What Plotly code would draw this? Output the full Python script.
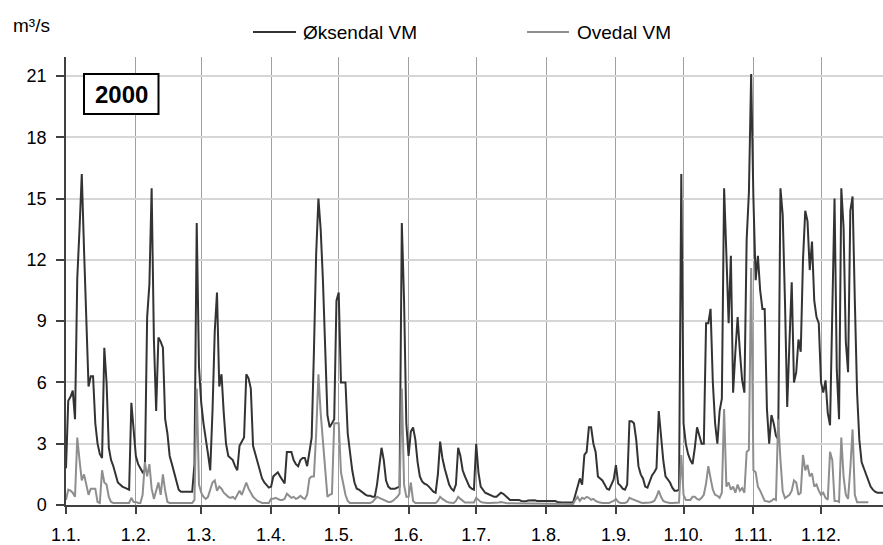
import pandas as pd
import plotly.graph_objects as go

# Daily discharge (m³/s), year 2000, one list per month
oksendal_jan = [1.8, 5.1, 5.3, 5.6, 4.2, 11.1, 13.5, 16.2, 12.5, 8.5, 5.8, 6.3, 6.3, 4.0, 3.0, 2.5, 2.3, 7.7, 6.0, 2.8, 2.2, 1.9, 1.5, 1.1, 1.0, 0.9, 0.85, 0.8, 0.75, 5.0, 3.8]
oksendal_feb = [2.4, 2.0, 1.8, 1.6, 1.7, 9.2, 10.8, 15.5, 8.1, 4.6, 8.2, 8.0, 7.7, 4.2, 3.5, 2.4, 2.0, 1.6, 1.2, 0.75, 0.65, 0.65, 0.65, 0.65, 0.65, 0.65, 2.0, 13.8, 6.8]
oksendal_mar = [5.0, 4.0, 3.1, 2.5, 1.7, 4.6, 8.5, 10.4, 5.8, 6.4, 4.5, 3.0, 2.4, 2.3, 2.2, 1.9, 1.7, 2.9, 3.1, 3.3, 6.4, 6.2, 5.7, 2.9, 2.5, 2.1, 1.7, 1.3, 1.1, 0.95, 0.85]
oksendal_apr = [0.9, 1.4, 1.5, 1.6, 1.4, 1.25, 1.05, 2.6, 2.6, 2.6, 2.2, 2.0, 1.9, 2.2, 2.3, 2.3, 1.9, 2.6, 3.3, 7.5, 12.3, 15.0, 13.5, 11.0, 7.5, 4.4, 3.8, 4.0, 4.2, 10.0]
oksendal_may = [10.4, 6.0, 6.0, 6.0, 3.5, 2.5, 1.7, 1.1, 0.8, 0.75, 0.65, 0.55, 0.5, 0.45, 0.45, 0.4, 0.4, 1.0, 2.0, 2.8, 2.2, 1.2, 0.9, 0.8, 0.8, 0.8, 0.85, 0.9, 13.8, 10.0, 4.0]
oksendal_jun = [2.4, 3.6, 3.8, 3.2, 2.1, 1.4, 1.15, 1.05, 1.0, 0.9, 0.75, 0.65, 0.6, 1.5, 3.1, 2.3, 1.8, 1.4, 1.0, 0.8, 0.7, 1.0, 2.8, 2.4, 1.7, 1.4, 1.1, 0.9, 0.8, 0.75]
oksendal_jul = [3.0, 1.6, 0.9, 0.75, 0.6, 0.55, 0.5, 0.45, 0.4, 0.4, 0.5, 0.6, 0.55, 0.45, 0.35, 0.25, 0.25, 0.25, 0.25, 0.25, 0.2, 0.18, 0.18, 0.22, 0.23, 0.23, 0.23, 0.2, 0.2, 0.22, 0.22]
oksendal_aug = [0.2, 0.2, 0.2, 0.2, 0.2, 0.15, 0.12, 0.12, 0.12, 0.12, 0.12, 0.12, 0.12, 0.5, 0.9, 1.3, 1.0, 2.45, 2.6, 3.8, 3.8, 3.0, 2.6, 1.4, 1.3, 1.2, 1.0, 0.8, 0.75, 1.0, 1.25]
oksendal_sep = [1.95, 1.05, 0.95, 0.8, 0.75, 1.0, 4.1, 4.1, 4.0, 3.2, 1.9, 1.5, 1.3, 0.9, 0.85, 1.15, 1.45, 1.6, 1.8, 4.6, 3.3, 2.2, 1.4, 1.25, 1.1, 0.85, 0.7, 0.7, 0.75, 16.2]
oksendal_oct = [4.0, 3.0, 2.5, 2.2, 2.0, 2.8, 3.8, 3.4, 3.0, 3.0, 8.9, 8.9, 9.6, 6.0, 4.0, 3.0, 4.6, 5.2, 15.5, 12.3, 8.9, 12.2, 5.5, 7.5, 9.2, 7.5, 6.1, 5.5, 13.0, 15.3, 21.1]
oksendal_nov = [15.0, 11.0, 12.2, 10.5, 9.6, 9.6, 4.7, 3.0, 4.4, 4.0, 3.4, 3.2, 15.5, 14.2, 10.0, 4.8, 8.0, 10.9, 6.0, 6.5, 8.1, 7.5, 12.0, 14.4, 13.9, 11.5, 12.9, 10.0, 9.2, 8.9]
oksendal_dec = [6.0, 5.5, 6.1, 4.5, 3.9, 10.0, 15.0, 6.6, 4.2, 15.5, 13.6, 8.0, 6.5, 14.4, 15.1, 10.0, 5.5, 3.2, 2.1, 1.8, 1.5, 1.2, 0.9, 0.75, 0.65, 0.6, 0.6, 0.6, 0.6, 0.6, 0.6]

ovedal_jan = [0.25, 0.75, 0.7, 0.6, 0.4, 3.3, 2.2, 1.2, 1.5, 0.9, 0.5, 0.8, 0.8, 0.8, 0.15, 0.1, 1.7, 1.1, 1.0, 0.4, 0.15, 0.1, 0.1, 0.1, 0.1, 0.1, 0.1, 0.1, 0.1, 0.35, 0.15]
ovedal_feb = [0.15, 0.1, 0.1, 0.5, 2.1, 1.4, 2.0, 0.8, 0.3, 0.65, 1.1, 0.5, 1.5, 0.7, 0.15, 0.1, 0.1, 0.1, 0.1, 0.1, 0.1, 0.1, 0.1, 0.1, 0.1, 0.1, 0.25, 5.7, 1.0]
ovedal_mar = [0.6, 0.4, 0.3, 0.4, 0.8, 1.1, 1.2, 0.7, 0.9, 0.8, 0.6, 0.5, 0.4, 0.35, 0.4, 0.3, 0.5, 0.7, 0.5, 0.8, 1.1, 0.8, 0.6, 0.4, 0.3, 0.2, 0.15, 0.1, 0.1, 0.1, 0.1]
ovedal_apr = [0.3, 0.3, 0.35, 0.3, 0.25, 0.25, 0.3, 0.55, 0.45, 0.35, 0.4, 0.3, 0.35, 0.45, 0.35, 0.3, 0.5, 1.3, 1.4, 1.4, 3.5, 6.4, 4.5, 3.0, 1.5, 0.4, 0.5, 0.55, 4.0, 4.0]
ovedal_may = [4.0, 1.6, 1.0, 0.5, 0.2, 0.1, 0.1, 0.1, 0.1, 0.1, 0.1, 0.1, 0.1, 0.1, 0.1, 0.15, 0.25, 0.4, 0.35, 0.3, 0.25, 0.2, 0.15, 0.15, 0.2, 0.3, 0.4, 0.55, 5.7, 1.0, 0.4]
ovedal_jun = [0.4, 1.1, 0.2, 0.1, 0.1, 0.1, 0.1, 0.1, 0.1, 0.1, 0.1, 0.1, 0.1, 0.2, 0.4, 0.3, 0.2, 0.15, 0.12, 0.1, 0.1, 0.2, 0.4, 0.3, 0.2, 0.12, 0.12, 0.12, 0.12, 0.12]
ovedal_jul = [0.35, 0.25, 0.15, 0.12, 0.1, 0.1, 0.1, 0.1, 0.1, 0.1, 0.12, 0.15, 0.12, 0.1, 0.08, 0.08, 0.08, 0.08, 0.08, 0.06, 0.06, 0.06, 0.06, 0.06, 0.06, 0.05, 0.05, 0.05, 0.05, 0.05, 0.05]
ovedal_aug = [0.05, 0.05, 0.05, 0.05, 0.05, 0.05, 0.05, 0.05, 0.05, 0.05, 0.05, 0.05, 0.05, 0.25, 0.4, 0.2, 0.35, 0.3, 0.4, 0.35, 0.25, 0.3, 0.2, 0.15, 0.12, 0.1, 0.1, 0.1, 0.1, 0.15, 0.2]
ovedal_sep = [0.3, 0.15, 0.1, 0.1, 0.1, 0.15, 0.35, 0.3, 0.25, 0.2, 0.15, 0.12, 0.1, 0.1, 0.1, 0.12, 0.15, 0.2, 0.4, 0.7, 0.4, 0.2, 0.15, 0.12, 0.1, 0.1, 0.1, 0.1, 0.12, 2.45]
ovedal_oct = [0.5, 0.25, 0.25, 0.25, 0.4, 0.4, 0.3, 0.25, 0.35, 0.5, 1.06, 1.9, 1.3, 0.75, 0.5, 0.45, 0.35, 0.6, 4.7, 0.9, 1.1, 0.75, 0.9, 0.6, 1.0, 0.7, 0.83, 0.6, 2.6, 2.7, 11.6]
ovedal_nov = [1.7, 1.6, 0.9, 0.7, 0.4, 0.2, 0.18, 0.15, 0.2, 0.3, 0.25, 4.2, 2.2, 0.67, 0.34, 0.4, 0.5, 0.7, 1.2, 1.1, 0.5, 0.6, 2.45, 1.7, 1.96, 1.4, 1.55, 0.9, 1.0, 0.7]
ovedal_dec = [0.5, 0.6, 0.35, 0.26, 2.6, 2.2, 0.2, 0.2, 0.15, 3.3, 1.4, 0.5, 0.3, 1.8, 3.7, 0.5, 0.13, 0.13, 0.13, 0.13, 0.13, 0.13, None, None, None, None, None, None, None, None, None]

oksendal = (oksendal_jan + oksendal_feb + oksendal_mar + oksendal_apr + oksendal_may + oksendal_jun
            + oksendal_jul + oksendal_aug + oksendal_sep + oksendal_oct + oksendal_nov + oksendal_dec)
ovedal = (ovedal_jan + ovedal_feb + ovedal_mar + ovedal_apr + ovedal_may + ovedal_jun
          + ovedal_jul + ovedal_aug + ovedal_sep + ovedal_oct + ovedal_nov + ovedal_dec)

dates = pd.date_range("2000-01-01", "2000-12-31", freq="D")

month_ticks = [f"2000-{m:02d}-01" for m in range(1, 13)]
month_labels = [f"1.{m}." for m in range(1, 13)]
y_ticks = [0, 3, 6, 9, 12, 15, 18, 21]

FONT = "Liberation Sans, Arial, sans-serif"
W, H = 883, 545
ML, MR, MT, MB = 66, 0, 57, 40
PW, PH = W - ML - MR, H - MT - MB


def xp(px):
    return (px - ML) / PW


def yp(py):
    return (H - MB - py) / PH


fig = go.Figure()
fig.add_trace(go.Scatter(x=dates, y=oksendal, mode="lines", name="Øksendal VM",
                         line=dict(color="#333333", width=2), showlegend=False))
fig.add_trace(go.Scatter(x=dates, y=ovedal, mode="lines", name="Ovedal VM",
                         line=dict(color="#8e8e8e", width=2), showlegend=False))

# Legend drawn as line samples + labels above the plot
legend_items = [("Øksendal VM", "#333333", 253, 296, 301), ("Ovedal VM", "#8e8e8e", 527, 569, 575)]
for label, color, lx0, lx1, tx in legend_items:
    fig.add_shape(type="line", xref="paper", yref="paper",
                  x0=xp(lx0), x1=xp(lx1), y0=yp(32), y1=yp(32),
                  line=dict(color=color, width=2))
    fig.add_annotation(text=label, xref="paper", yref="paper", x=xp(tx), y=yp(32),
                       xanchor="left", yanchor="middle", showarrow=False,
                       font=dict(family=FONT, size=19, color="#000000"))

# Unit label
fig.add_annotation(text="m³/s", xref="paper", yref="paper", x=xp(11), y=yp(25),
                   xanchor="left", yanchor="middle", showarrow=False,
                   font=dict(family=FONT, size=19, color="#000000"))

# Year box
fig.add_shape(type="rect", xref="paper", yref="paper",
              x0=xp(84), x1=xp(158.5), y0=yp(114), y1=yp(74),
              line=dict(color="#000000", width=2), fillcolor="#ffffff")
fig.add_annotation(text="<b>2000</b>", xref="paper", yref="paper", x=xp(121.3), y=yp(94),
                   xanchor="center", yanchor="middle", showarrow=False,
                   font=dict(family=FONT, size=24, color="#000000"))

fig.update_layout(
    width=W, height=H,
    margin=dict(l=ML, r=MR, t=MT, b=MB, autoexpand=False),
    paper_bgcolor="#ffffff", plot_bgcolor="#ffffff",
    font=dict(family=FONT, size=18, color="#000000"),
    xaxis=dict(
        type="date", range=["2000-01-01", "2000-12-28 12:00"],
        tickmode="array", tickvals=month_ticks, ticktext=month_labels,
        showgrid=True, gridcolor="#a0a0a0", gridwidth=1,
        showline=True, linecolor="#404040", linewidth=1.5,
        ticks="outside", ticklen=7, tickcolor="#404040", tickwidth=1.5,
        ticklabelstandoff=6, zeroline=False, automargin=False,
        tickfont=dict(family=FONT, size=18, color="#000000"),
    ),
    yaxis=dict(
        range=[0, 21.93], tickmode="array", tickvals=y_ticks,
        showgrid=True, gridcolor="#d6d6d6", gridwidth=1.5,
        showline=True, linecolor="#404040", linewidth=1.5,
        ticks="outside", ticklen=8, tickcolor="#404040", tickwidth=1.5,
        ticklabelstandoff=6, zeroline=False, automargin=False,
        tickfont=dict(family=FONT, size=18, color="#000000"),
    ),
)

fig.write_html("out.html")
